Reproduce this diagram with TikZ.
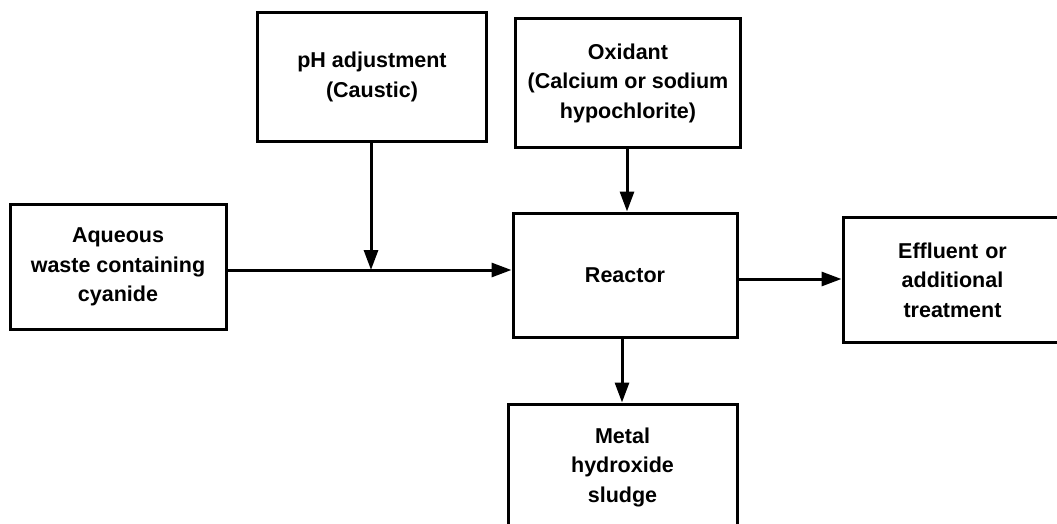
\documentclass[tikz,border=0pt]{standalone}
\usepackage{fontspec}
\setmainfont{Liberation Sans}
\usetikzlibrary{arrows.meta}
\begin{document}
\begin{tikzpicture}[x=1pt,y=-1pt,
  box/.style={draw,line width=3pt,align=center,inner sep=0pt,
    font=\fontsize{21.5}{29.5}\selectfont\bfseries},
  flow/.style={line width=3pt,-{Triangle[length=20pt,width=14pt]}}]
\useasboundingbox (0,0) rectangle (1057,524);
\clip (0,0) rectangle (1057,524);
\node[box,minimum width=216pt,minimum height=125pt] (waste) at (118,267) {Aqueous\\waste containing\\cyanide};
\node[box,minimum width=229pt,minimum height=129pt] (ph) at (372,77) {pH adjustment\\(Caustic)};
\node[box,minimum width=225pt,minimum height=128pt] (ox) at (628,83) {Oxidant\\(Calcium or sodium\\hypochlorite)};
\node[box,minimum width=224pt,minimum height=124pt] (reactor) at (625,275) {Reactor};
\node[box,minimum width=219pt,minimum height=125pt,text width=200pt] (eff) at (952.5,280) {Effluent or\\additional\\treatment\hspace*{0pt}};
\node[box,minimum width=229pt,minimum height=126pt] (metal) at (622.5,467) {Metal\\hydroxide\\sludge};
\coordinate (J) at (371,270);
\draw[line width=3pt] (waste.east |- J) -- (J);
\draw[flow] (J) -- (reactor.west |- J);
\draw[flow] (ph.south -| J) -- (J);
\draw[flow] (ox.south -| 627,0) -- (reactor.north -| 627,0);
\draw[flow] (reactor.east |- 0,279) -- (eff.west |- 0,279);
\draw[flow] (reactor.south -| 622,0) -- (metal.north -| 622,0);
\end{tikzpicture}
\end{document}
